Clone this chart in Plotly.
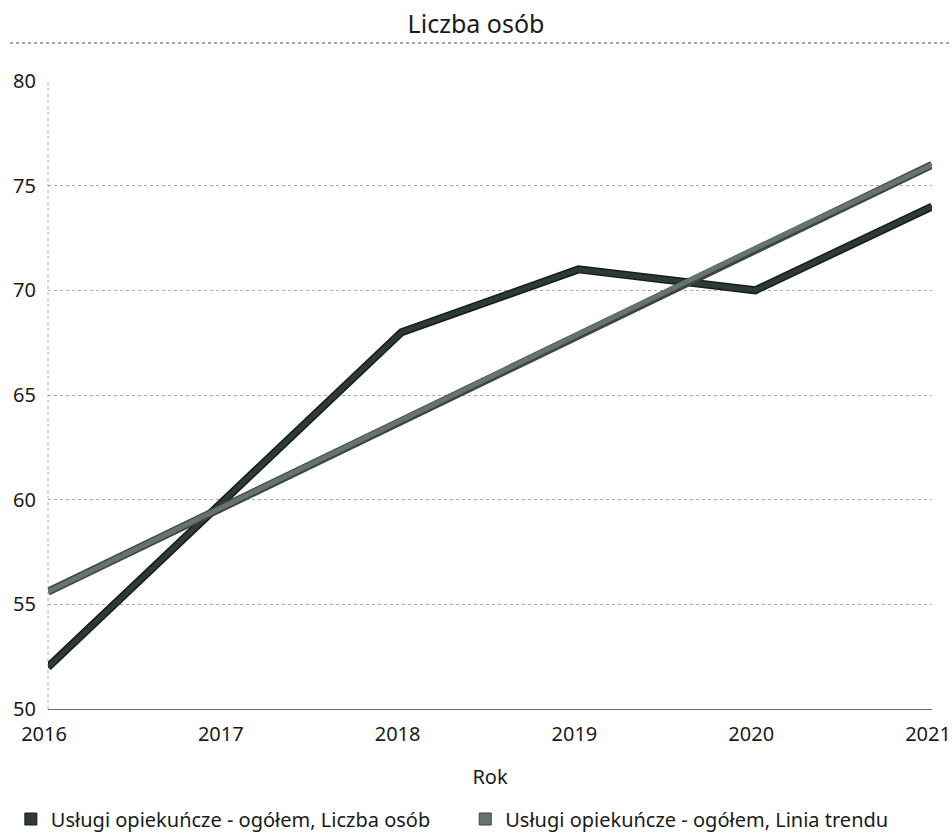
import plotly.graph_objects as go

years = [2016, 2017, 2018, 2019, 2020, 2021]
liczba_osob = [52, 60, 68, 71, 70, 74]
linia_trendu = [55.6, 59.7, 63.8, 67.9, 72.0, 76.0]

name_data = "Usługi opiekuńcze - ogółem, Liczba osób"
name_trend = "Usługi opiekuńcze - ogółem, Linia trendu"

col_data = "#2e3a37"
col_data_edge = "#151b1a"
col_trend = "#66736f"
col_trend_edge = "#3b4542"

fig = go.Figure()
fig.add_trace(go.Scatter(x=years, y=liczba_osob, mode="lines", showlegend=False,
                         line=dict(color=col_data_edge, width=8), hoverinfo="skip"))
fig.add_trace(go.Scatter(x=years, y=liczba_osob, mode="lines", showlegend=False,
                         line=dict(color=col_data, width=5), name=name_data))
fig.add_trace(go.Scatter(x=years, y=linia_trendu, mode="lines", showlegend=False,
                         line=dict(color=col_trend_edge, width=8), hoverinfo="skip"))
fig.add_trace(go.Scatter(x=years, y=linia_trendu, mode="lines", showlegend=False,
                         line=dict(color=col_trend, width=5), name=name_trend))
fig.add_trace(go.Scatter(x=[None], y=[None], mode="markers", name=name_data, legend="legend",
                         marker=dict(symbol="square", size=12, color=col_data,
                                     line=dict(color=col_data_edge, width=1))))
fig.add_trace(go.Scatter(x=[None], y=[None], mode="markers", name=name_trend, legend="legend2",
                         marker=dict(symbol="square", size=12, color=col_trend,
                                     line=dict(color=col_trend_edge, width=1))))

font = "Noto Sans, Open Sans, DejaVu Sans, sans-serif"
txt = "#1a1a1a"

W, H = 952, 836
L, R, T, B = 48, 20, 81, 127
plot_h = H - T - B

leg_common = dict(orientation="h", yanchor="middle", y=-110 / plot_h, xanchor="left",
                  itemwidth=30, font=dict(size=20, color=txt), bgcolor="rgba(0,0,0,0)")

fig.update_layout(
    width=W, height=H,
    margin=dict(l=L, r=R, t=T, b=B, autoexpand=False),
    paper_bgcolor="white", plot_bgcolor="white",
    font=dict(family=font, size=20, color=txt),
    title=dict(text="Liczba osób", x=0.5, xanchor="center", y=1 - 24 / H, yanchor="middle",
               font=dict(size=25, color=txt)),
    showlegend=True,
    legend=dict(x=-0.042, **leg_common),
    legend2=dict(x=0.472, **leg_common),
    xaxis=dict(range=[2016, 2021], tickmode="array", tickvals=years,
               ticktext=[str(y) for y in years], showgrid=False, zeroline=False,
               showline=True, linecolor="#6a6a6a", linewidth=1,
               title=dict(text="Rok", standoff=23, font=dict(size=20)),
               ticks="", ticklabelstandoff=7, ticklabelshift=-4,
               ticklabeloverflow="allow"),
    yaxis=dict(range=[50, 80], tickvals=[50, 55, 60, 65, 70, 75, 80],
               showgrid=True, gridcolor="#a8a8a8", griddash="dot", gridwidth=1,
               zeroline=False, showline=False,
               ticks="", ticklabelstandoff=11),
    shapes=[
        dict(type="line", xref="paper", yref="paper", x0=-0.043, x1=1.023,
             y0=(plot_h + T - 43) / plot_h, y1=(plot_h + T - 43) / plot_h,
             line=dict(color="#8a8a8a", width=1.5, dash="dot")),
        dict(type="line", xref="paper", yref="paper", x0=0, x1=0, y0=0, y1=1,
             line=dict(color="#a8a8a8", width=1, dash="dot"), layer="below"),
    ],
)

fig.write_html(
    "out.html",
    config={"displayModeBar": False},
    post_script="document.body.style.margin='0';"
                "document.documentElement.style.overflow='hidden';"
                "document.body.style.overflow='hidden';",
)
